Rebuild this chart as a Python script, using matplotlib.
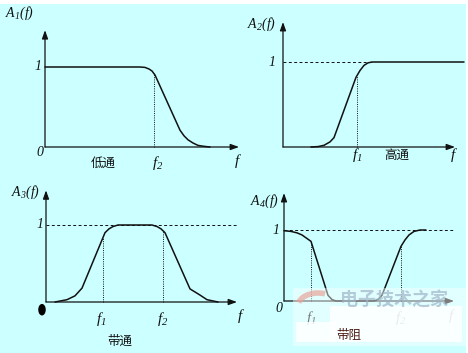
import numpy as np
import matplotlib
matplotlib.use("Agg")
import matplotlib.pyplot as plt
from matplotlib.patches import Rectangle, Ellipse, Arc

plt.rcParams['mathtext.fontset'] = 'custom'
plt.rcParams['mathtext.it'] = 'Liberation Serif:italic'
plt.rcParams['mathtext.rm'] = 'Liberation Serif:italic'
plt.rcParams['font.family'] = ['Liberation Serif', 'Noto Sans CJK SC']

# ---------------- data ----------------
# low pass  A1(f)
lp_f = [0, 9.5, 10.0, 10.4, 10.7, 11.0, 13.5, 13.9, 14.3, 14.8, 15.3, 15.8, 16.5]
lp_a = [1, 1, 0.995, 0.975, 0.95, 0.9, 0.21, 0.14, 0.09, 0.05, 0.02, 0.01, 0]
lp_fc = [10.9]
# high pass A2(f)
hp_f = [2.8, 3.5, 4.1, 4.7, 5.1, 7.3, 7.7, 8.1, 8.5, 8.9, 18.1]
hp_a = [0, 0.005, 0.02, 0.06, 0.11, 0.82, 0.9, 0.96, 0.99, 1.0, 1.0]
hp_fc = [7.4]
# band pass A3(f)
bp_f = [0.9, 2.1, 2.9, 3.6, 5.9, 6.3, 6.7, 7.2, 10.6, 11.1, 11.5, 11.9,
        14.4, 14.9, 15.4, 16.1, 17.2]
bp_a = [0, 0.03, 0.08, 0.18, 0.9, 0.95, 0.98, 1, 1, 0.98, 0.95, 0.9,
        0.17, 0.13, 0.09, 0.03, 0]
bp_fc = [5.7, 11.7]
# band stop A4(f)
bs_f = [0, 0.7, 1.3, 1.8, 2.3, 2.7, 4.4, 4.8, 5.2, 9.0, 9.4, 9.8,
        11.7, 12.1, 12.5, 13.0, 13.6, 14.2]
bs_a = [0.99, 0.98, 0.96, 0.93, 0.88, 0.84, 0.08, 0.02, 0, 0, 0.02, 0.08,
        0.77, 0.86, 0.93, 0.98, 1.0, 1.0]
bs_fc = [2.7, 11.7]

titles = ["$A_1(f)$", "$A_2(f)$", "$A_3(f)$", "$A_4(f)$"]
names = ["低通", "高通", "带通", "带阻"]
fc_labels = [["$f_2$"], ["$f_1$"], ["$f_1$", "$f_2$"], ["$f_1$", "$f_2$"]]

W, H = 468, 353
fig = plt.figure(figsize=(W / 100, H / 100), dpi=100)
fig.patch.set_facecolor("white")
fig.patches.append(Rectangle((0, 0), 466 / W, 349 / H, transform=fig.transFigure,
                             facecolor="#CCFFFF", edgecolor="none", zorder=-10))

# layout per panel: origin pixel (x0, y0), px per unit y, xmax, ymax, x-axis end
panels = [
    dict(x0=45, y0=147, ppu=80, xmax=19.4, ymax=1.46, xend=19.4,
         f=lp_f, a=lp_a, fc=lp_fc, dash=False),
    dict(x0=283, y0=147, ppu=85, xmax=18.1, ymax=1.47, xend=17.2,
         f=hp_f, a=hp_a, fc=hp_fc, dash=True),
    dict(x0=46, y0=302, ppu=77, xmax=19.1, ymax=1.45, xend=19.1,
         f=bp_f, a=bp_a, fc=bp_fc, dash=True),
    dict(x0=284, y0=301, ppu=71, xmax=17.0, ymax=1.52, xend=17.0,
         f=bs_f, a=bs_a, fc=bs_fc, dash=True),
]

# label positions (data units)
lab = [
    dict(title=(-4.0, 1.675, 'left'), one=(-0.7, 1.0), zero=(-0.5, -0.075),
         name=(5.8, -0.2), fcl=[(11.3, -0.2)], flab=(19.3, -0.17)),
    dict(title=(-2.15, 1.44, 'center'), one=(-1.1, 1.0), zero=None,
         name=(11.4, -0.1), fcl=[(7.4, -0.1)], flab=(17.1, -0.1)),
    dict(title=(-2.0, 1.42, 'center'), one=(-0.6, 1.0), zero='blob',
         name=(7.4, -0.51), fcl=[(5.5, -0.22), (11.7, -0.22)], flab=(19.5, -0.18)),
    dict(title=(-1.9, 1.41, 'center'), one=(-0.8, 1.0), zero=(-0.5, -0.11),
         name=(6.5, -0.49), fcl=[(2.7, -0.24), (11.7, -0.24)], flab=(16.8, -0.21)),
]

ink = "#111111"
axes = []
for i, (p, L) in enumerate(zip(panels, lab)):
    rect = [p['x0'] / W, 1 - p['y0'] / H, p['xmax'] * 10 / W, p['ymax'] * p['ppu'] / H]
    ax = fig.add_axes(rect)
    axes.append(ax)
    ax.set_xlim(0, p['xmax'])
    ax.set_ylim(0, p['ymax'])
    ax.axis('off')
    ax.patch.set_alpha(0)
    ax.annotate('', xy=(p['xend'], 0), xytext=(0, 0),
                arrowprops=dict(arrowstyle='-|>,head_length=0.5,head_width=0.18',
                                color=ink, lw=0.9, shrinkA=0, shrinkB=0),
                annotation_clip=False)
    ax.annotate('', xy=(0, p['ymax']), xytext=(0, 0),
                arrowprops=dict(arrowstyle='-|>,head_length=0.5,head_width=0.18',
                                color=ink, lw=0.9, shrinkA=0, shrinkB=0),
                annotation_clip=False)
    ax.plot(p['f'], p['a'], color=ink, lw=1.1, clip_on=False,
            solid_joinstyle='round', solid_capstyle='round')
    if p['dash']:
        ax.plot([0, p['xend'] if i != 1 else p['f'][-2]], [1, 1], color=ink, lw=0.7,
                ls=(0, (3, 2.5)), clip_on=False, zorder=1)
    for fc in p['fc']:
        top = np.interp(fc, p['f'], p['a'])
        ax.plot([fc, fc], [0, top], color=ink, lw=0.7, ls=(0, (1, 1.3)), clip_on=False)
    tx, ty, ha = L['title']
    ax.text(tx, ty, titles[i], fontsize=10, ha=ha, va='center', color=ink)
    ax.text(L['one'][0], L['one'][1], "1", fontsize=10, style='italic', ha='center',
            va='center', color=ink, family='Liberation Serif')
    if L['zero'] == 'blob':
        ax.add_patch(Ellipse((-0.4, -0.1), 0.75, 0.15, facecolor='black',
                             edgecolor='none', clip_on=False))
    elif L['zero'] is not None:
        ax.text(L['zero'][0], L['zero'][1], "0", fontsize=10, style='italic',
                ha='center', va='center', color=ink, family='Liberation Serif')
    for (fx, fy), s in zip(L['fcl'], fc_labels[i]):
        ax.text(fx, fy, s, fontsize=11, ha='center', va='center', color=ink)
    ax.text(L['flab'][0], L['flab'][1], "$f$", fontsize=11, ha='center',
            va='center', color=ink)
    if i != 3:
        ax.text(L['name'][0], L['name'][1], names[i], fontsize=9, ha='center',
                va='center', color=ink, family='Noto Sans CJK SC')

# watermark overlay (pixel coords), drawn above the charts
ov = fig.add_axes([0, 0, 1, 1])
ov.set_xlim(0, W)
ov.set_ylim(H, 0)
ov.axis('off')
ov.patch.set_alpha(0)
ov.add_patch(Rectangle((293, 288), 173, 58, facecolor='white', alpha=0.45,
                       edgecolor='none'))
ov.add_patch(Arc((318, 306), 40, 26, theta1=190, theta2=300, color='#e7a59b',
                 lw=4, alpha=0.7))
ov.text(394, 299, "电子技术之家", fontsize=13, ha='center', va='center',
        color='#9fb5c8', alpha=0.7, family='Noto Sans CJK SC', weight='bold')
ov.add_patch(Rectangle((330, 306), 132, 36, facecolor='white', alpha=0.85,
                       edgecolor='none'))
ov.add_patch(Rectangle((296, 322), 40, 20, facecolor='white', alpha=0.85,
                       edgecolor='none'))
ov.text(lab[3]['name'][0], lab[3]['name'][1], names[3], transform=axes[3].transData,
        fontsize=9, ha='center', va='center', color='#4a1a12',
        family='Noto Sans CJK SC', zorder=20)

fig.savefig("out.png", dpi=100, facecolor=fig.get_facecolor())
